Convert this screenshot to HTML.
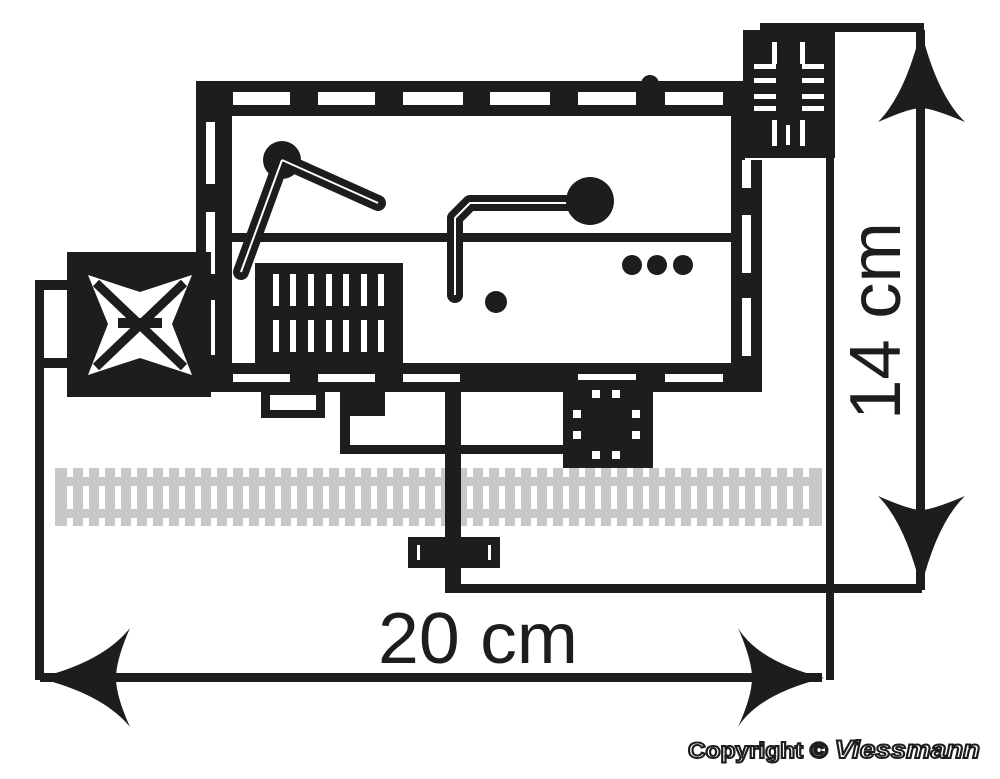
<!DOCTYPE html>
<html><head><style>html,body{margin:0;padding:0;background:#fff}svg{display:block}</style></head>
<body>
<svg width="1000" height="779" viewBox="0 0 1000 779" xmlns="http://www.w3.org/2000/svg">
<g fill="#1d1d1b" stroke="none">
<!-- track -->
<rect x="55" y="468" width="767" height="58" fill="#c8c8c8"/>
<g stroke="#fff" stroke-width="6">
<path d="M70 468V526M86 468V526M102 468V526M118 468V526M134 468V526M150 468V526M166 468V526M182 468V526M198 468V526M214 468V526M230 468V526M246 468V526M262 468V526M278 468V526M294 468V526M310 468V526M326 468V526M342 468V526M358 468V526M374 468V526M390 468V526M406 468V526M422 468V526M438 468V526M470 468V526M486 468V526M502 468V526M518 468V526M534 468V526M550 468V526M566 468V526M582 468V526M598 468V526M614 468V526M630 468V526M646 468V526M662 468V526M678 468V526M694 468V526M710 468V526M726 468V526M742 468V526M758 468V526M774 468V526M790 468V526M806 468V526"/>
</g>
<rect x="55" y="477" width="767" height="9" fill="#c8c8c8"/>
<rect x="55" y="509" width="767" height="9" fill="#c8c8c8"/>
<!-- main frame -->
<path fill-rule="evenodd" d="M196 81H745V160H762V392H196Z M232 116H731V363H232Z"/>
<g fill="#fff">
<rect x="233" y="92" width="57" height="13"/><rect x="318" y="92" width="57" height="13"/><rect x="403" y="92" width="60" height="13"/><rect x="490" y="92" width="60" height="13"/><rect x="578" y="92" width="58" height="13"/><rect x="665" y="92" width="58" height="13"/>
<rect x="206" y="122" width="9" height="62"/><rect x="206" y="212" width="9" height="62"/><rect x="206" y="300" width="9" height="55"/>
<rect x="233" y="374" width="57" height="8"/><rect x="318" y="374" width="57" height="8"/><rect x="403" y="374" width="57" height="8"/><rect x="578" y="374" width="58" height="8"/><rect x="665" y="374" width="58" height="8"/>
<rect x="742" y="160" width="9" height="28"/><rect x="742" y="215" width="9" height="58"/><rect x="742" y="298" width="9" height="58"/>
</g>
<circle cx="650" cy="84" r="9"/>
<!-- interior line -->
<rect x="232" y="233" width="500" height="9"/>
<!-- tower top right -->
<rect x="743" y="30" width="92" height="128"/>
<rect x="760" y="23" width="164" height="9"/>
<g fill="#fff">
<rect x="772" y="42" width="5" height="22"/><rect x="800" y="42" width="5" height="22"/>
<rect x="754" y="64" width="22" height="5"/><rect x="802" y="64" width="22" height="5"/>
<rect x="754" y="78" width="22" height="5"/><rect x="802" y="78" width="22" height="5"/>
<rect x="754" y="94" width="22" height="5"/><rect x="802" y="94" width="22" height="5"/>
<rect x="754" y="106" width="22" height="5"/><rect x="802" y="106" width="22" height="5"/>
<rect x="772" y="120" width="5" height="26"/><rect x="800" y="120" width="5" height="26"/>
<rect x="786" y="125" width="4" height="20"/>
</g>
<!-- left lever -->
<circle cx="282" cy="160" r="19"/>
<path d="M282 160L378 203M282 160L241 272" stroke="#1d1d1b" stroke-width="16" stroke-linecap="round" fill="none"/>
<path d="M282 160L378 203M282 160L241 272" stroke="#fff" stroke-width="2" fill="none"/>
<!-- right lever -->
<path d="M455 295V218L470 203H590" stroke="#1d1d1b" stroke-width="16" stroke-linecap="round" stroke-linejoin="round" fill="none"/>
<path d="M455 295V218L470 203H590" stroke="#fff" stroke-width="2" fill="none"/>
<circle cx="590" cy="201" r="24"/>
<circle cx="632" cy="265" r="10"/><circle cx="657" cy="265" r="10"/><circle cx="683" cy="265" r="10"/>
<circle cx="496" cy="302" r="11"/>
<!-- grid box -->
<rect x="255" y="263" width="148" height="100"/>
<g fill="#fff">
<rect x="273" y="274" width="6" height="32"/><rect x="290" y="274" width="6" height="32"/><rect x="308" y="274" width="6" height="32"/><rect x="326" y="274" width="6" height="32"/><rect x="343" y="274" width="6" height="32"/><rect x="361" y="274" width="6" height="32"/><rect x="378" y="274" width="6" height="32"/>
<rect x="273" y="320" width="6" height="32"/><rect x="290" y="320" width="6" height="32"/><rect x="308" y="320" width="6" height="32"/><rect x="326" y="320" width="6" height="32"/><rect x="343" y="320" width="6" height="32"/><rect x="361" y="320" width="6" height="32"/><rect x="378" y="320" width="6" height="32"/>
</g>
<!-- left box -->
<rect x="67" y="252" width="144" height="145"/>
<path d="M35 280H70V290H44V358H70V368H44V680H35Z"/>
<path fill="#fff" d="M88 275L140 292L192 275L172 324L192 375L140 358L88 375L108 324Z"/>
<path d="M96 283L184 367M184 283L96 367" stroke="#1d1d1b" stroke-width="9"/>
<rect x="118" y="318" width="44" height="10"/>
<!-- below building -->
<path fill-rule="evenodd" d="M261 390H325V418H261Z M270 395H316V410H270Z"/>
<rect x="340" y="388" width="45" height="28"/>
<path d="M340 410H350V445H448V454H340Z"/>
<rect x="563" y="380" width="90" height="88"/>
<g fill="#fff">
<rect x="592" y="390" width="8" height="8"/><rect x="612" y="390" width="8" height="8"/>
<rect x="573" y="410" width="8" height="8"/><rect x="632" y="410" width="8" height="8"/>
<rect x="573" y="431" width="8" height="8"/><rect x="632" y="431" width="8" height="8"/>
<rect x="592" y="451" width="8" height="8"/><rect x="612" y="451" width="8" height="8"/>
</g>
<rect x="454" y="445" width="110" height="9"/>
<!-- pole -->
<rect x="445" y="390" width="16" height="202"/>
<rect x="445" y="584" width="477" height="9"/>
<rect x="408" y="537" width="92" height="31"/>
<rect x="417" y="545" width="3" height="15" fill="#fff"/><rect x="488" y="545" width="3" height="15" fill="#fff"/>
<!-- dimension lines -->
<rect x="826" y="30" width="8" height="650"/>
<rect x="916" y="30" width="9" height="560"/>
<path d="M921 30Q905 95 878 122Q910 108 921 108Q932 108 965 122Q937 95 921 30Z"/>
<path d="M921 588Q905 523 878 496Q910 510 921 510Q932 510 965 496Q937 523 921 588Z"/>
<rect x="40" y="673" width="782" height="9"/>
<path d="M38 678Q103 662 130 628Q116 660 116 678Q116 696 130 727Q103 694 38 678Z"/>
<path d="M824 678Q759 662 738 628Q752 660 752 678Q752 696 738 727Q759 694 824 678Z"/>
</g>
<text x="478" y="663" font-family="Liberation Sans, sans-serif" font-size="72" text-anchor="middle" fill="#1d1d1b" textLength="200" lengthAdjust="spacingAndGlyphs">20 cm</text>
<text transform="translate(900 321) rotate(-90)" font-family="Liberation Sans, sans-serif" font-size="72" text-anchor="middle" fill="#1d1d1b" textLength="198" lengthAdjust="spacingAndGlyphs">14 cm</text>
<text x="980" y="758" font-family="Liberation Sans, sans-serif" font-size="22" font-weight="bold" text-anchor="end" fill="#fff" stroke="#1d1d1b" stroke-width="2" textLength="292" lengthAdjust="spacingAndGlyphs">Copyright © <tspan font-style="italic" font-size="25">Viessmann</tspan></text>
</svg>
</body></html>
